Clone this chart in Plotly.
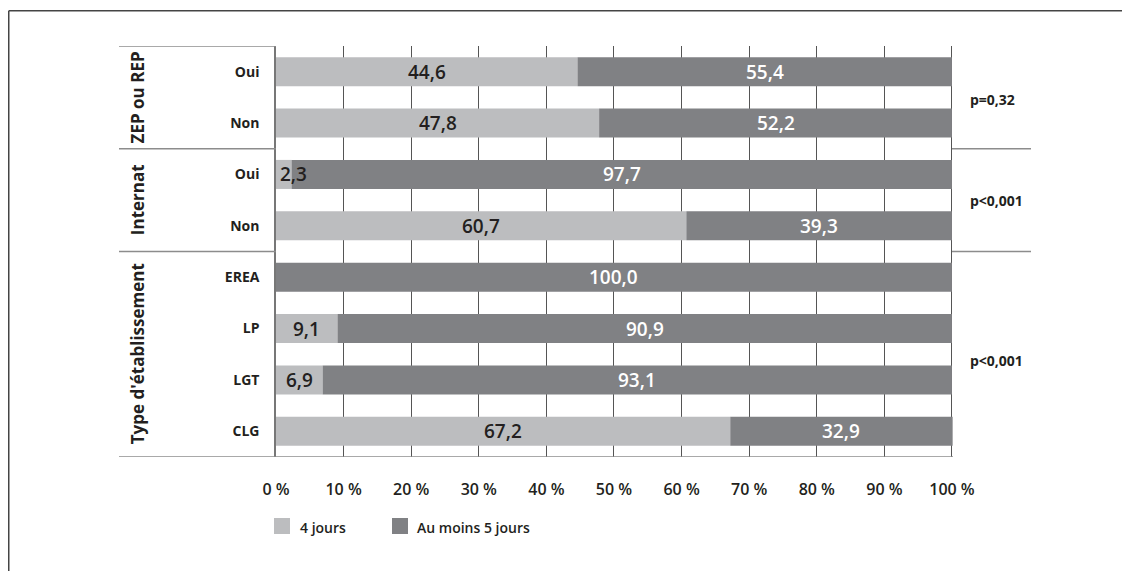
import plotly.graph_objects as go

categories = ["Oui", "Non", "Oui", "Non", "EREA", "LP", "LGT", "CLG"]
groups = ["ZEP ou REP", "Internat", "Type d'établissement"]
group_rows = [[0, 1], [2, 3], [4, 5, 6, 7]]
p_values = ["p=0,32", "p<0,001", "p<0,001"]
series_names = ["4 jours", "Au moins 5 jours"]
four_days = [44.6, 47.8, 2.3, 60.7, 0.0, 9.1, 6.9, 67.2]
five_days = [55.4, 52.2, 97.7, 39.3, 100.0, 90.9, 93.1, 32.9]
x_ticks = [0, 10, 20, 30, 40, 50, 60, 70, 80, 90, 100]
x_ticktext = [f"{v} %" for v in x_ticks]

LIGHT = "#BCBDBF"
DARK = "#808184"
TXT = "#231F20"
FONT = "Open Sans"

# page has an 8px body margin; figure is sized to fit the window
W, H = 1122, 563
PL, PT, PW, PH = 276, 46, 678, 411  # plot area in window pixels
L, T = PL - 8, PT - 8
R = W - L - PW
B = H - T - PH


def px(x):  # window x pixel -> paper
    return (x - PL) / PW


def py(y):  # window y pixel -> paper
    return (PT + PH - y) / PH


rows = list(range(len(categories)))

fig = go.Figure()
fig.add_trace(go.Bar(y=rows, x=four_days, orientation="h", name=series_names[0],
                     marker=dict(color=LIGHT, line=dict(width=0)), width=0.565))
fig.add_trace(go.Bar(y=rows, x=five_days, base=four_days, orientation="h",
                     name=series_names[1],
                     marker=dict(color=DARK, line=dict(width=0)), width=0.565))


def fmt(v):
    return f"{v:.1f}".replace(".", ",")


ann = []
for i in rows:
    a, b = four_days[i], five_days[i]
    if a > 0:
        if a < 5:
            ann.append(dict(x=0.3, y=i, xref="x", yref="y", text=fmt(a), showarrow=False,
                            xanchor="left", font=dict(family=FONT, size=19, color=TXT, weight=600)))
        else:
            ann.append(dict(x=a / 2, y=i, xref="x", yref="y", text=fmt(a), showarrow=False,
                            xanchor="center",
                            font=dict(family=FONT, size=19, color=TXT, weight=600)))
    ann.append(dict(x=a + b / 2, y=i, xref="x", yref="y", text=fmt(b), showarrow=False,
                    xanchor="center",
                    font=dict(family=FONT, size=19, color="white", weight=600)))

for g, rr in zip(groups, group_rows):
    ann.append(dict(x=px(137), y=(rr[0] + rr[-1]) / 2, xref="paper", yref="y",
                    text=g, textangle=-90, showarrow=False,
                    xanchor="center", yanchor="middle",
                    font=dict(family=FONT, size=17, color=TXT, weight=700)))

p_y = [0.55, 2.5, 5.62]
for p, yy in zip(p_values, p_y):
    ann.append(dict(x=px(968), y=yy, xref="paper", yref="y", text=p,
                    showarrow=False, xanchor="left",
                    font=dict(family=FONT, size=14, color=TXT, weight=700)))

shapes = []
lc = "#8C8C8C"
for yy in [-0.5, 1.5, 3.5]:
    shapes.append(dict(type="line", xref="paper", yref="y", x0=px(119), x1=0,
                       y0=yy, y1=yy, line=dict(color=lc, width=1.5)))
shapes.append(dict(type="line", xref="paper", yref="y", x0=px(119), x1=px(953),
                   y0=7.5, y1=7.5, line=dict(color=lc, width=1.5)))
for yy in [1.5, 3.5]:
    shapes.append(dict(type="line", xref="paper", yref="y", x0=px(952), x1=px(1031),
                       y0=yy, y1=yy, line=dict(color=lc, width=1.5)))
# outer frame (top and left edges)
shapes.append(dict(type="line", xref="paper", yref="paper",
                   x0=px(8.75), x1=px(8.75), y0=py(10.75), y1=py(580),
                   line=dict(color="#444", width=1.5)))
shapes.append(dict(type="line", xref="paper", yref="paper",
                   x0=px(8.75), x1=px(1140), y0=py(10.75), y1=py(10.75),
                   line=dict(color="#444", width=1.5)))

# legend drawn manually
leg_sq = [(274, 290), (392, 408)]
leg_txt_x = [298, 415]
for (x0, x1), tx, name, col in zip(leg_sq, leg_txt_x, series_names, [LIGHT, DARK]):
    shapes.append(dict(type="rect", xref="paper", yref="paper", x0=px(x0), x1=px(x1),
                       y0=py(518), y1=py(534), fillcolor=col, line=dict(width=0)))
    ann.append(dict(x=px(tx), y=py(527), xref="paper", yref="paper", text=name,
                    showarrow=False, xanchor="left", yanchor="middle",
                    font=dict(family=FONT, size=14, color=TXT, weight=600)))

fig.update_layout(
    width=W, height=H,
    margin=dict(l=L, r=R, t=T, b=B),
    barmode="overlay",
    plot_bgcolor="white", paper_bgcolor="white",
    annotations=ann, shapes=shapes,
    showlegend=False,
    xaxis=dict(range=[0, 100.3], tickvals=x_ticks, ticktext=x_ticktext,
               showgrid=True, gridcolor="#555", gridwidth=1, zeroline=False,
               showline=False, ticks="outside", ticklen=18, tickcolor="rgba(0,0,0,0)",
               tickfont=dict(family=FONT, size=16, color=TXT, weight=600), fixedrange=True),
    yaxis=dict(range=[7.5, -0.5], tickvals=rows, ticktext=categories,
               showgrid=False, zeroline=False, showline=True, linecolor="#777", linewidth=1.5,
               ticks="outside", ticklen=12, tickcolor="rgba(0,0,0,0)",
               tickfont=dict(family=FONT, size=14, color=TXT, weight=700)),
)

fig.write_html("out.html")
